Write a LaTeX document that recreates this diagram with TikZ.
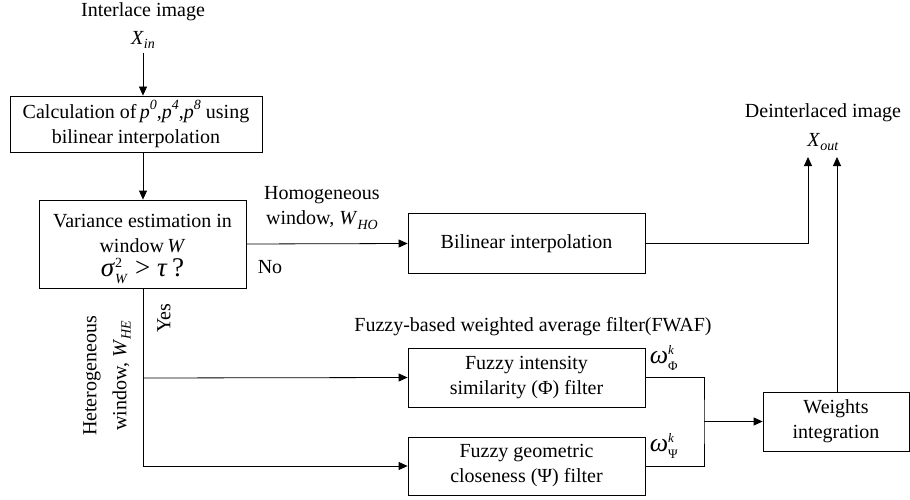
\documentclass[tikz,border=0pt]{standalone}
\usepackage{fontspec}
\setmainfont{Liberation Serif}
\usetikzlibrary{arrows.meta}
\newcommand\mysup[1]{\raisebox{1.0ex}{\fontsize{14}{14}\selectfont #1}}
\newcommand\mysub[1]{\raisebox{-0.45ex}{\fontsize{14}{14}\selectfont #1}}
\begin{document}
\begin{tikzpicture}[x=1pt,y=-1pt,
  font=\fontsize{20}{25}\selectfont,
  box/.style={draw, line width=0.8pt, align=center, inner sep=0pt},
  lab/.style={align=center, inner sep=0pt},
  conn/.style={line width=0.8pt},
  arr/.style={line width=0.8pt, -{Triangle[length=9pt,width=8pt]}}]
\useasboundingbox (0,0) rectangle (910,500);

% labels
\node[lab] (inlab) at (143,12) {Interlace image};
\node[lab] (xin) at (143,40) {\textit{X}\mysub{\textit{in}}};
\node[lab] (outlab) at (823,113) {Deinterlaced image};
\node[lab] (xout) at (823,142) {\textit{X}\mysub{\textit{out}}};

% boxes
\node[box, minimum width=252pt, minimum height=56pt] (b1) at (136,124)
  {Calculation of\,\textit{p}\mysup{\textit{0}},\textit{p}\mysup{\textit{4}},\textit{p}\mysup{\textit{8}} using\\bilinear interpolation};
\node[box, minimum width=207pt, minimum height=88pt] (b2) at (142.5,244) {};
\node[lab] (b2t) at (142.5,234) {Variance estimation in\\window\,\textit{W}};
\node[lab] (b2m) at (142.5,271) {\fontsize{27}{27}\selectfont\textit{σ}$^{\mbox{\fontsize{14}{14}\selectfont 2}}_{\mbox{\fontsize{14}{14}\selectfont\textit{W}}}$ \textgreater\ \textit{τ}\,?};
\node[box, minimum width=237pt, minimum height=60pt] (bil) at (526.5,243.5) {Bilinear interpolation};
\node[box, minimum width=237pt, minimum height=59pt] (fi) at (526.5,377.5) {Fuzzy intensity\\similarity (Φ) filter};
\node[box, minimum width=237pt, minimum height=58pt] (fg) at (526.5,466) {Fuzzy geometric\\closeness (Ψ) filter};
\node[box, minimum width=146pt, minimum height=59pt] (wi) at (836,421.5) {Weights\\integration};

% other labels
\node[lab] (homo) at (322,208) {Homogeneous\\window, \textit{W}\mysub{\textit{HO}}};
\node[lab] (no) at (270,267) {No};
\node[lab, rotate=90] (yes) at (164,318) {Yes};
\node[lab, rotate=90, font=\fontsize{20}{30}\selectfont] (hetero) at (107,376) {Heterogeneous\\window, \textit{W}\mysub{\textit{HE}}};
\node[lab] (fwaf) at (533,327) {Fuzzy-based weighted average filter(FWAF)};
\node[lab] (wphi) at (664,358) {\fontsize{26}{26}\selectfont\textit{ω}$^{\mbox{\fontsize{13}{13}\selectfont\textit{k}}}_{\mbox{\fontsize{13}{13}\selectfont Φ}}$};
\node[lab] (wpsi) at (664,446) {\fontsize{26}{26}\selectfont\textit{ω}$^{\mbox{\fontsize{13}{13}\selectfont\textit{k}}}_{\mbox{\fontsize{13}{13}\selectfont Ψ}}$};

% coordinates
\coordinate (o1) at (808,157);
\coordinate (o2) at (837,157);
\coordinate (jn) at (704,421.5);
\coordinate (sp) at (143,378);

% connectors
\draw[arr] (xin.south) ++(0,4) -- (143,0 |- b1.north);
\draw[arr] (143,0 |- b1.south) -- (143,0 |- b2.north);
\draw[arr] (b2.east) -- (bil.west);
\draw[arr] (bil.east) -| (o1);
\draw[arr] (143,0 |- b2.south) |- (fg.west);
\draw[arr] (sp) -- (fi.west);
\draw[conn] (fi.east) -| (jn) |- (fg.east);
\draw[arr] (jn) -- (wi.west);
\draw[arr] (wi.north -| o2) -- (o2);
\end{tikzpicture}
\end{document}
